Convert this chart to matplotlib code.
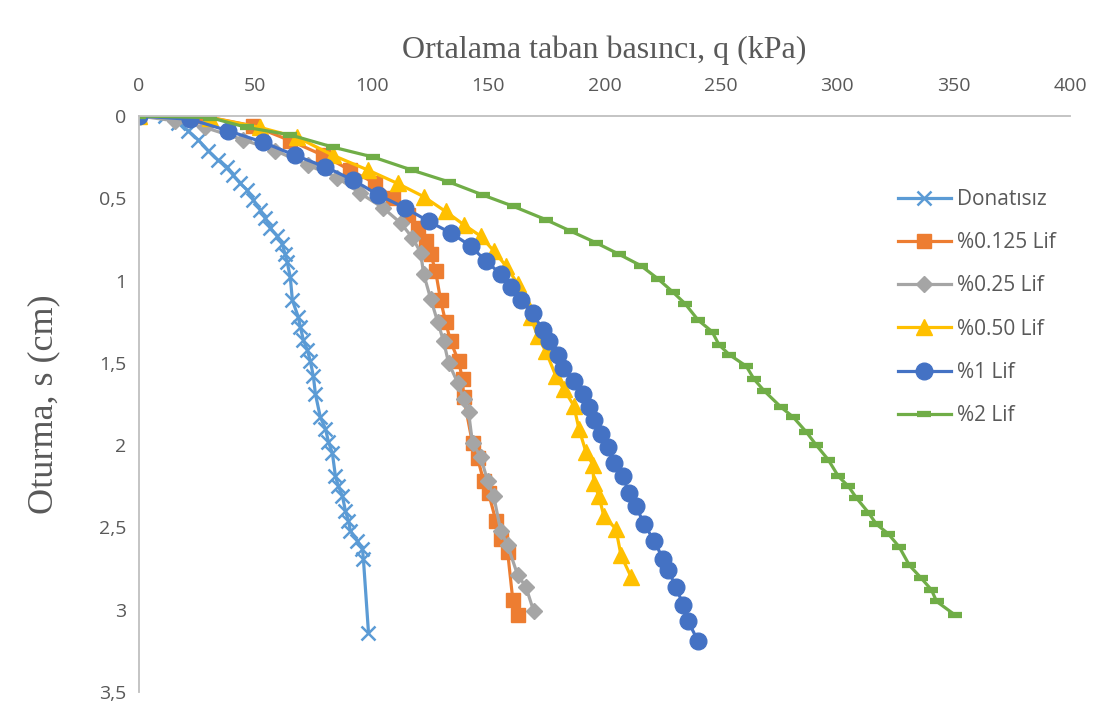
import matplotlib
matplotlib.use("Agg")
import matplotlib.pyplot as plt
from matplotlib.ticker import FuncFormatter

# Yük - oturma verileri: q (kPa), s (cm)
q_donatisiz = [0, 11.2, 16.8, 21.1, 25.4, 29.7, 34.0, 37.9, 40.5, 43.5, 46.5, 49.1, 52.1,
               54.2, 56.4, 59.4, 61.6, 62.8, 63.7, 65.0, 65.9, 68.4, 69.3, 70.6, 72.3,
               73.6, 74.9, 75.8, 77.9, 80.1, 81.4, 83.1, 84.4, 85.7, 87.4, 88.7, 90.0,
               90.8, 93.8, 96.0, 96.4, 98.6]
s_donatisiz = [0, 0, 0.04, 0.09, 0.145, 0.21, 0.27, 0.31, 0.36, 0.41, 0.45, 0.51, 0.57,
               0.62, 0.68, 0.73, 0.78, 0.84, 0.89, 0.98, 1.12, 1.22, 1.28, 1.36, 1.42,
               1.49, 1.58, 1.69, 1.83, 1.90, 1.98, 2.05, 2.19, 2.25, 2.31, 2.40, 2.46,
               2.52, 2.58, 2.63, 2.69, 3.14]

q_0125 = [0, 27.5, 49.1, 65.0, 79.2, 90.8, 101.6, 109.3, 115.4, 119.7, 123.1, 125.3,
          127.4, 129.6, 131.7, 133.9, 137.3, 139.0, 139.5, 143.3, 145.5, 148.1, 150.2,
          153.3, 155.4, 158.4, 160.6, 162.7]
s_0125 = [0, 0, 0.06, 0.15, 0.24, 0.33, 0.41, 0.50, 0.60, 0.68, 0.76, 0.84, 0.94, 1.12,
          1.25, 1.37, 1.49, 1.60, 1.71, 1.99, 2.08, 2.22, 2.29, 2.46, 2.57, 2.65, 2.94,
          3.03]

q_025 = [0, 15.5, 28.4, 44.8, 58.5, 72.8, 85.2, 95.1, 105.0, 112.4, 117.5, 121.0, 122.3,
         125.3, 128.3, 130.9, 133.0, 136.9, 139.5, 141.6, 143.3, 146.8, 149.8, 152.4,
         155.4, 158.4, 162.7, 166.2, 169.6]
s_025 = [0, 0.03, 0.07, 0.145, 0.21, 0.30, 0.375, 0.47, 0.56, 0.65, 0.74, 0.83, 0.96,
         1.11, 1.25, 1.37, 1.50, 1.62, 1.72, 1.80, 1.99, 2.07, 2.22, 2.31, 2.52, 2.61,
         2.79, 2.86, 3.01]

q_050 = [0, 30.6, 52.1, 68.0, 83.5, 98.6, 111.1, 122.3, 131.7, 139.5, 146.8, 152.4,
         157.6, 162.7, 165.3, 168.3, 171.3, 174.8, 179.1, 182.5, 186.8, 189.0, 192.0,
         195.0, 195.4, 197.6, 199.7, 204.9, 207.1, 211.4]
s_050 = [0, 0.01, 0.07, 0.13, 0.24, 0.33, 0.41, 0.49, 0.58, 0.66, 0.73, 0.82, 0.91, 1.02,
         1.11, 1.22, 1.34, 1.43, 1.58, 1.66, 1.76, 1.90, 2.04, 2.12, 2.23, 2.31, 2.43,
         2.51, 2.67, 2.80]

q_1 = [0, 22.0, 38.3, 53.4, 67.2, 80.1, 92.1, 102.9, 114.5, 124.4, 133.9, 142.5, 148.9,
       155.4, 159.7, 164.0, 169.2, 173.5, 176.1, 179.9, 182.1, 186.8, 190.7, 193.3,
       195.4, 198.5, 201.5, 204.0, 207.9, 210.5, 213.5, 217.0, 221.3, 225.1, 227.3,
       230.7, 233.7, 235.9, 240.2]
s_1 = [0, 0.02, 0.09, 0.16, 0.24, 0.31, 0.39, 0.48, 0.56, 0.64, 0.71, 0.79, 0.88, 0.96,
       1.04, 1.12, 1.20, 1.30, 1.37, 1.45, 1.53, 1.61, 1.69, 1.77, 1.85, 1.93, 2.01, 2.11,
       2.19, 2.29, 2.37, 2.48, 2.58, 2.69, 2.76, 2.86, 2.97, 3.07, 3.19]

q_2 = [0, 30.6, 46.5, 65.0, 83.5, 100.7, 117.5, 133.0, 147.7, 161.0, 174.8, 185.5, 196.3,
       206.2, 215.7, 223.0, 229.4, 234.6, 240.2, 246.2, 249.2, 253.6, 260.9, 264.3,
       268.6, 275.9, 281.1, 286.7, 291.0, 296.2, 300.5, 304.8, 308.2, 313.4, 316.8,
       322.0, 326.7, 331.0, 336.2, 340.5, 342.7, 350.4]
s_2 = [0, 0.01, 0.07, 0.115, 0.19, 0.25, 0.33, 0.40, 0.48, 0.55, 0.63, 0.70, 0.77, 0.84,
       0.91, 0.99, 1.07, 1.14, 1.24, 1.31, 1.39, 1.45, 1.52, 1.60, 1.67, 1.77, 1.83, 1.92,
       2.00, 2.09, 2.19, 2.25, 2.32, 2.41, 2.48, 2.54, 2.62, 2.73, 2.81, 2.88, 2.95, 3.03]

etiketler = ["Donatısız", "%0.125 Lif", "%0.25 Lif", "%0.50 Lif", "%1 Lif", "%2 Lif"]

fig = plt.figure(figsize=(11.05, 7.19), dpi=100)
ax = fig.add_axes([0.1258, 0.0376, 0.8425, 0.8011])

lw = 2.3
ax.plot(q_donatisiz, s_donatisiz, color="#5B9BD5", lw=lw, marker="x", ms=10, mew=1.8,
        label=etiketler[0])
ax.plot(q_0125, s_0125, color="#ED7D31", lw=lw, marker="s", ms=10.5, label=etiketler[1])
ax.plot(q_025, s_025, color="#A5A5A5", lw=lw, marker="D", ms=8.5, label=etiketler[2])
ax.plot(q_050, s_050, color="#FFC000", lw=lw, marker="^", ms=12, label=etiketler[3])
ax.plot(q_1, s_1, color="#4472C4", lw=lw, marker="o", ms=12, label=etiketler[4])
ax.plot(q_2, s_2, color="#70AD47", lw=lw, marker="_", ms=10, mew=4.5, label=etiketler[5])

ax.set_xlim(0, 400)
ax.set_ylim(3.5, 0)
ax.set_xticks(range(0, 401, 50))
ax.set_yticks([i * 0.5 for i in range(8)])
ax.yaxis.set_major_formatter(FuncFormatter(lambda v, p: f"{v:g}".replace(".", ",")))

ax.xaxis.tick_top()
ax.xaxis.set_label_position("top")
for side in ["right", "bottom"]:
    ax.spines[side].set_visible(False)
for side in ["left", "top"]:
    ax.spines[side].set_color("#BFBFBF")
    ax.spines[side].set_linewidth(1.3)

ax.tick_params(axis="both", length=0, labelsize=14, labelcolor="#595959")
ax.tick_params(axis="x", pad=15)
ax.tick_params(axis="y", pad=9)
for lbl in ax.get_xticklabels() + ax.get_yticklabels():
    lbl.set_family("Open Sans")

ax.set_xlabel("Ortalama taban basıncı, q (kPa)", family="Liberation Serif", fontsize=23,
              color="#595959", labelpad=14)
ax.set_ylabel("Oturma, s (cm)", family="Liberation Serif", fontsize=26, color="#595959",
              labelpad=28)

ax.legend(loc="upper left", bbox_to_anchor=(0.795, 0.906), frameon=False,
          handlelength=2.55, handletextpad=0.3, labelspacing=1.07,
          prop={"family": "Open Sans", "size": 15}, labelcolor="#595959")

fig.savefig("out.png", dpi=100, facecolor="white")
